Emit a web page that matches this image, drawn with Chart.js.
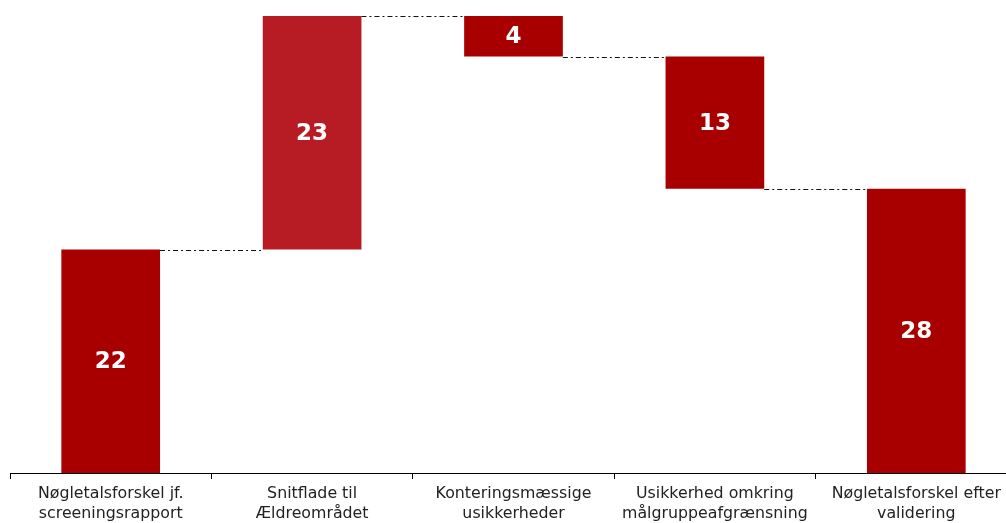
<html>
<head>
<style>
    body { margin: 0; overflow: hidden; background: #fff; }
    #wrap { width: 1006px; height: 523px; overflow: hidden; }
</style>
</head>
<body>
<div id="wrap">
    <canvas id="waterfall" width="1017" height="523"></canvas>
</div>
<script src="https://cdn.jsdelivr.net/npm/chart.js"></script>

<script>
    const categories = [
        ["Nøgletalsforskel jf.", "screeningsrapport"],
        ["Snitflade til", "Ældreområdet"],
        ["Konteringsmæssige", "usikkerheder"],
        ["Usikkerhed omkring", "målgruppeafgrænsning"],
        ["Nøgletalsforskel efter", "validering"]
    ];
    // start value, the changes, and the result
    const startValue = 22;
    const changes = [23, -4, -13];
    const endValue = 28;
    const barColors = ['#A80000', '#B71C24', '#A80000', '#A80000', '#A80000'];

    // build floating bars [from, to] and running totals
    let ranges = [[0, startValue]];
    let totals = [startValue];
    let running = startValue;
    changes.forEach(c => {
        let next = running + c;
        ranges.push([Math.min(running, next), Math.max(running, next)]);
        running = next;
        totals.push(running);
    });
    ranges.push([0, endValue]);
    const labelValues = [startValue].concat(changes.map(c => Math.abs(c))).concat([endValue]);

    // dash-dot connectors between bars at the running total
    const connectors = {
        id: 'connectors',
        afterDatasetsDraw(chart) {
            const ctx = chart.ctx;
            const meta = chart.getDatasetMeta(0);
            const y = chart.scales.y;
            ctx.save();
            ctx.strokeStyle = '#111';
            ctx.lineWidth = 1.2;
            ctx.setLineDash([5, 3, 2, 3]);
            for (let i = 0; i < totals.length; i++) {
                const a = meta.data[i], b = meta.data[i + 1];
                const yy = Math.round(y.getPixelForValue(totals[i])) + 0.5;
                ctx.beginPath();
                ctx.moveTo(a.x + a.width / 2, yy);
                ctx.lineTo(b.x - b.width / 2, yy);
                ctx.stroke();
            }
            ctx.restore();
        }
    };

    // value labels in the middle of every bar
    const valueLabels = {
        id: 'valueLabels',
        afterDatasetsDraw(chart) {
            const ctx = chart.ctx;
            const meta = chart.getDatasetMeta(0);
            ctx.save();
            ctx.fillStyle = '#fff';
            ctx.font = 'bold 23px "DejaVu Sans", Verdana, sans-serif';
            ctx.textAlign = 'center';
            ctx.textBaseline = 'middle';
            meta.data.forEach((bar, i) => {
                ctx.fillText(labelValues[i], bar.x, (bar.y + bar.base) / 2 + 1);
            });
            ctx.restore();
        }
    };

    const config = {
        type: 'bar',
        data: {
            labels: categories,
            datasets: [{
                data: ranges,
                backgroundColor: barColors,
                borderWidth: 0,
                categoryPercentage: 1,
                barPercentage: 0.49
            }]
        },
        options: {
            responsive: false,
            animation: false,
            layout: { padding: { left: 10, top: 16, right: 0, bottom: 0 } },
            plugins: {
                legend: { display: false },
                tooltip: { enabled: false }
            },
            scales: {
                x: {
                    afterFit(scale) { scale.height = 50; },
                    grid: {
                        offset: true,
                        drawOnChartArea: false,
                        drawTicks: true,
                        tickLength: 6,
                        color: '#000'
                    },
                    border: { color: '#000', width: 1 },
                    ticks: {
                        color: '#222',
                        padding: 5,
                        maxRotation: 0,
                        autoSkip: false,
                        font: { family: '"DejaVu Sans", Verdana, sans-serif', size: 15.8, lineHeight: 1.27 }
                    }
                },
                y: {
                    display: false,
                    min: 0,
                    max: 45
                }
            }
        },
        plugins: [connectors, valueLabels]
    };

    const chart = new Chart(document.getElementById('waterfall').getContext('2d'), config);
</script>
</body>
</html>
